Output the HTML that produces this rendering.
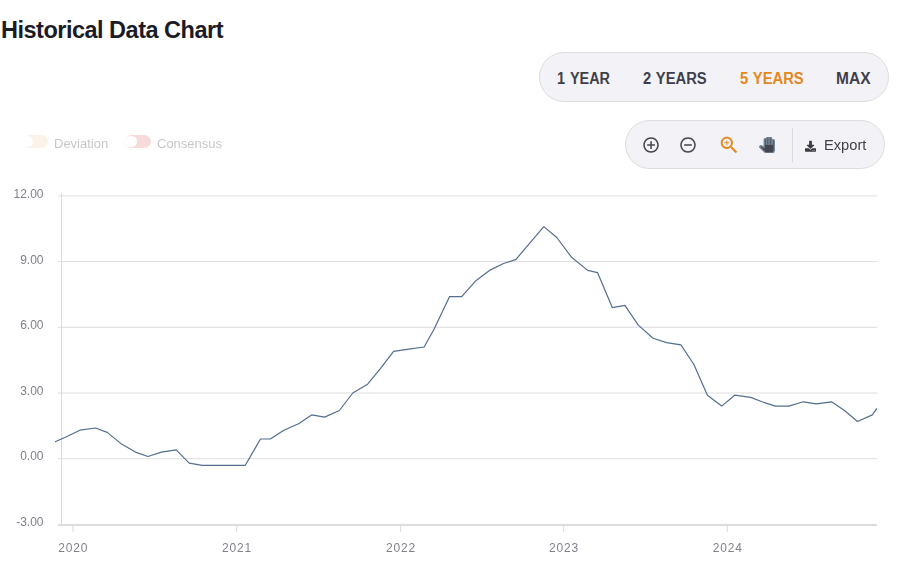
<!DOCTYPE html>
<html><head><meta charset="utf-8"><title>Historical Data Chart</title>
<style>
html,body{margin:0;padding:0;background:#fff;}
body{width:913px;height:585px;position:relative;overflow:hidden;font-family:"Liberation Sans",sans-serif;}
.abs{position:absolute;white-space:nowrap;}
#title{left:1px;top:15px;font-size:23.5px;font-weight:bold;color:#1b1b28;line-height:30px;letter-spacing:-0.5px;}
.pill{position:absolute;box-sizing:border-box;background:#f3f2f7;border:1px solid #dddddf;border-radius:26px;}
#range{left:539px;top:52px;width:350px;height:50px;}
#tools{left:625px;top:120px;width:260px;height:49px;}
.rb{position:absolute;top:16px;transform-origin:0 50%;font-size:16px;font-weight:bold;color:#3f3f4b;line-height:20px;white-space:nowrap;}
.rb.on{color:#e5881c;}
.lg{position:absolute;font-size:13px;color:#3f3f4b;line-height:16px;top:136px;}
.tg{position:absolute;top:134.7px;width:26.2px;height:13.4px;border-radius:7px;}
.tg i{position:absolute;left:0.5px;top:1.1px;width:11.2px;height:11.2px;border-radius:6px;background:#fff;}
</style></head><body>
<div id="title" class="abs">Historical Data Chart</div>

<div id="range" class="pill">
  <span class="rb" style="left:17px;transform:scaleX(0.90);word-spacing:1.4px">1 YEAR</span>
  <span class="rb" style="left:103px;transform:scaleX(0.923);word-spacing:0.8px">2 YEARS</span>
  <span class="rb on" style="left:199.5px;transform:scaleX(0.923);word-spacing:0.8px">5 YEARS</span>
  <span class="rb" style="left:295.5px;transform:scaleX(0.97)">MAX</span>
</div>

<div class="abs" style="left:0;top:0;width:300px;height:170px;opacity:0.3;will-change:transform;transform:translateZ(0)">
<div class="tg" style="left:21.8px;background:#f8d7b9"><i></i></div>
<div class="lg" style="left:54px">Deviation</div>
<div class="tg" style="left:124.9px;background:#e48a84"><i></i></div>
<div class="lg" style="left:157px">Consensus</div>
</div>

<div id="tools" class="pill"></div>

<svg class="abs" style="left:0;top:0" width="913" height="585" viewBox="0 0 913 585">
  <!-- toolbar icons -->
  <g transform="translate(641.75,135.7) scale(0.775)" fill="#45454f">
    <path d="M13 7h-2v4H7v2h4v4h2v-4h4v-2h-4V7zm-1-5C6.480 2 2 6.480 2 12s4.480 10 10 10 10-4.480 10-10S17.520 2 12 2zm0 18c-4.410 0-8-3.590-8-8s3.590-8 8-8 8 3.590 8 8-3.590 8-8 8z"/>
  </g>
  <g transform="translate(678.7,135.7) scale(0.775)" fill="#45454f">
    <path d="M7 11v2h10v-2H7zm5-9C6.480 2 2 6.480 2 12s4.480 10 10 10 10-4.480 10-10S17.520 2 12 2zm0 18c-4.410 0-8-3.590-8-8s3.590-8 8-8 8 3.590 8 8-3.590 8-8 8z"/>
  </g>
  <g transform="translate(717.9,133.9) scale(0.94)" fill="#e5861a">
    <path d="M15.500 14h-.79l-.28-.270C15.410 12.590 16 11.110 16 9.500 16 5.910 13.090 3 9.500 3S3 5.910 3 9.500 5.910 16 9.500 16c1.610 0 3.090-.590 4.230-1.570l.270.280v.79l5 4.990L20.490 19l-4.990-5zm-6 0C7.010 14 5 11.990 5 9.500S7.010 5 9.500 5 14 7.010 14 9.500 11.990 14 9.500 14z"/>
    <path d="M12 10h-2v2H9v-2H7V9h2V7h1v2h2v1z"/>
  </g>
  <svg x="758.9" y="136.9" width="16" height="16" viewBox="0 0 24 24">
    <path fill="#45454f" stroke="#6e8192" stroke-width="2" d="M23 5.500V20c0 2.200-1.800 4-4 4h-7.300c-1.080 0-2.100-.430-2.850-1.190L1 14.830s1.260-1.230 1.300-1.250c.220-.190.490-.290.790-.290.220 0 .420.060.6.160.04.010 4.310 2.460 4.310 2.460V4c0-.830.670-1.500 1.500-1.500S11 3.170 11 4v7h1V1.500c0-.830.670-1.500 1.500-1.500S15 .67 15 1.500V11h1V2.500c0-.830.670-1.500 1.500-1.500s1.500.67 1.500 1.500V11h1V5.500c0-.830.670-1.500 1.500-1.500s1.500.67 1.500 1.500z"/>
  </svg>
  <rect x="792" y="128" width="1" height="34" fill="#d9d9e1"/>
  <!-- download icon (11x11) -->
  <g transform="translate(805,140.7) scale(0.0215)" fill="#3a3a44">
    <path d="M216 0h80c13.300 0 24 10.700 24 24v168h87.700c17.800 0 26.700 21.500 14.100 34.100L269.700 378.300c-7.500 7.500-19.800 7.500-27.300 0L90.100 226.100c-12.600-12.600-3.700-34.100 14.100-34.100H192V24c0-13.300 10.700-24 24-24zm296 376v112c0 13.300-10.700 24-24 24H24c-13.300 0-24-10.700-24-24V376c0-13.300 10.700-24 24-24h146.700l49 49c20.100 20.100 52.500 20.100 72.600 0l49-49H488c13.300 0 24 10.700 24 24zm-124 88c0-11-9-20-20-20s-20 9-20 20 9 20 20 20 20-9 20-20zm64 0c0-11-9-20-20-20s-20 9-20 20 9 20 20 20 20-9 20-20z"/>
  </g>
  <text x="824" y="149.9" font-size="15.5" textLength="42.4" lengthAdjust="spacingAndGlyphs" fill="#3f3f4b" font-family="Liberation Sans, sans-serif">Export</text>

  <!-- chart -->
  <g stroke="#dddddd" stroke-width="1" fill="none">
    <line x1="58" x2="877" y1="195.9" y2="195.9"/>
    <line x1="58" x2="877" y1="261.6" y2="261.6"/>
    <line x1="58" x2="877" y1="327.3" y2="327.3"/>
    <line x1="58" x2="877" y1="393.0" y2="393.0"/>
    <line x1="58" x2="877" y1="458.7" y2="458.7"/>
    <line x1="58" x2="877" y1="524.4" y2="524.4"/>
    <line x1="58" x2="877" y1="525.5" y2="525.5" stroke="#dadadc"/>
  </g>
  <g stroke="#dadadd" stroke-width="1" fill="none">
    <line x1="61.5" x2="61.5" y1="193.5" y2="526.5"/>
    <line x1="73" x2="73" y1="526" y2="532"/>
    <line x1="236.7" x2="236.7" y1="526" y2="532"/>
    <line x1="400.6" x2="400.6" y1="526" y2="532"/>
    <line x1="563.7" x2="563.7" y1="526" y2="532"/>
    <line x1="727.3" x2="727.3" y1="526" y2="532"/>
  </g>
  <g font-size="12" fill="#80808b" font-family="Liberation Sans, sans-serif" text-anchor="end">
    <text x="43.5" y="197.9">12.00</text>
    <text x="43.5" y="263.5">9.00</text>
    <text x="43.5" y="329.1">6.00</text>
    <text x="43.5" y="394.6">3.00</text>
    <text x="43.5" y="460.1">0.00</text>
    <text x="43.5" y="525.7">-3.00</text>
  </g>
  <g font-size="12" fill="#80808b" font-family="Liberation Sans, sans-serif" text-anchor="middle" letter-spacing="0.85">
    <text x="73.2" y="552">2020</text>
    <text x="237.1" y="552">2021</text>
    <text x="401.0" y="552">2022</text>
    <text x="564.1" y="552">2023</text>
    <text x="727.7" y="552">2024</text>
  </g>
  <clipPath id="cp"><rect x="55" y="190" width="822.2" height="340"/></clipPath>
  <polyline clip-path="url(#cp)" fill="none" stroke="#546e90" stroke-width="1.2" stroke-linejoin="round" points="51.6,443.4 66.4,436.8 79.9,430.2 95.6,428.0 107.2,432.4 120.7,443.4 135.4,452.1 148.0,456.5 161.4,452.1 176.2,449.9 189.2,463.1 202.2,465.3 217.0,465.3 230.0,465.3 245.3,465.3 260.5,439.0 270.4,439.0 283.8,430.2 298.6,423.7 311.6,414.9 324.6,417.1 339.4,410.5 352.8,393.0 367.6,384.2 380.2,368.9 393.6,351.4 408.8,349.2 424.1,347.0 433.9,329.5 449.6,296.6 461.7,296.6 475.2,281.3 489.5,270.4 503.0,263.8 516.0,259.4 530.8,241.9 543.8,226.6 556.8,237.5 571.5,257.2 587.7,270.4 597.5,272.6 612.3,307.6 624.9,305.4 638.3,325.1 653.1,338.2 666.6,342.6 680.9,344.8 693.9,364.5 707.4,395.2 721.7,406.1 734.7,395.2 750.8,397.4 762.0,401.8 775.5,406.1 788.9,406.1 803.3,401.8 816.3,403.9 831.5,401.8 844.5,410.5 857.5,421.5 872.3,414.9 876.8,408.3"/>
</svg>
</body></html>
